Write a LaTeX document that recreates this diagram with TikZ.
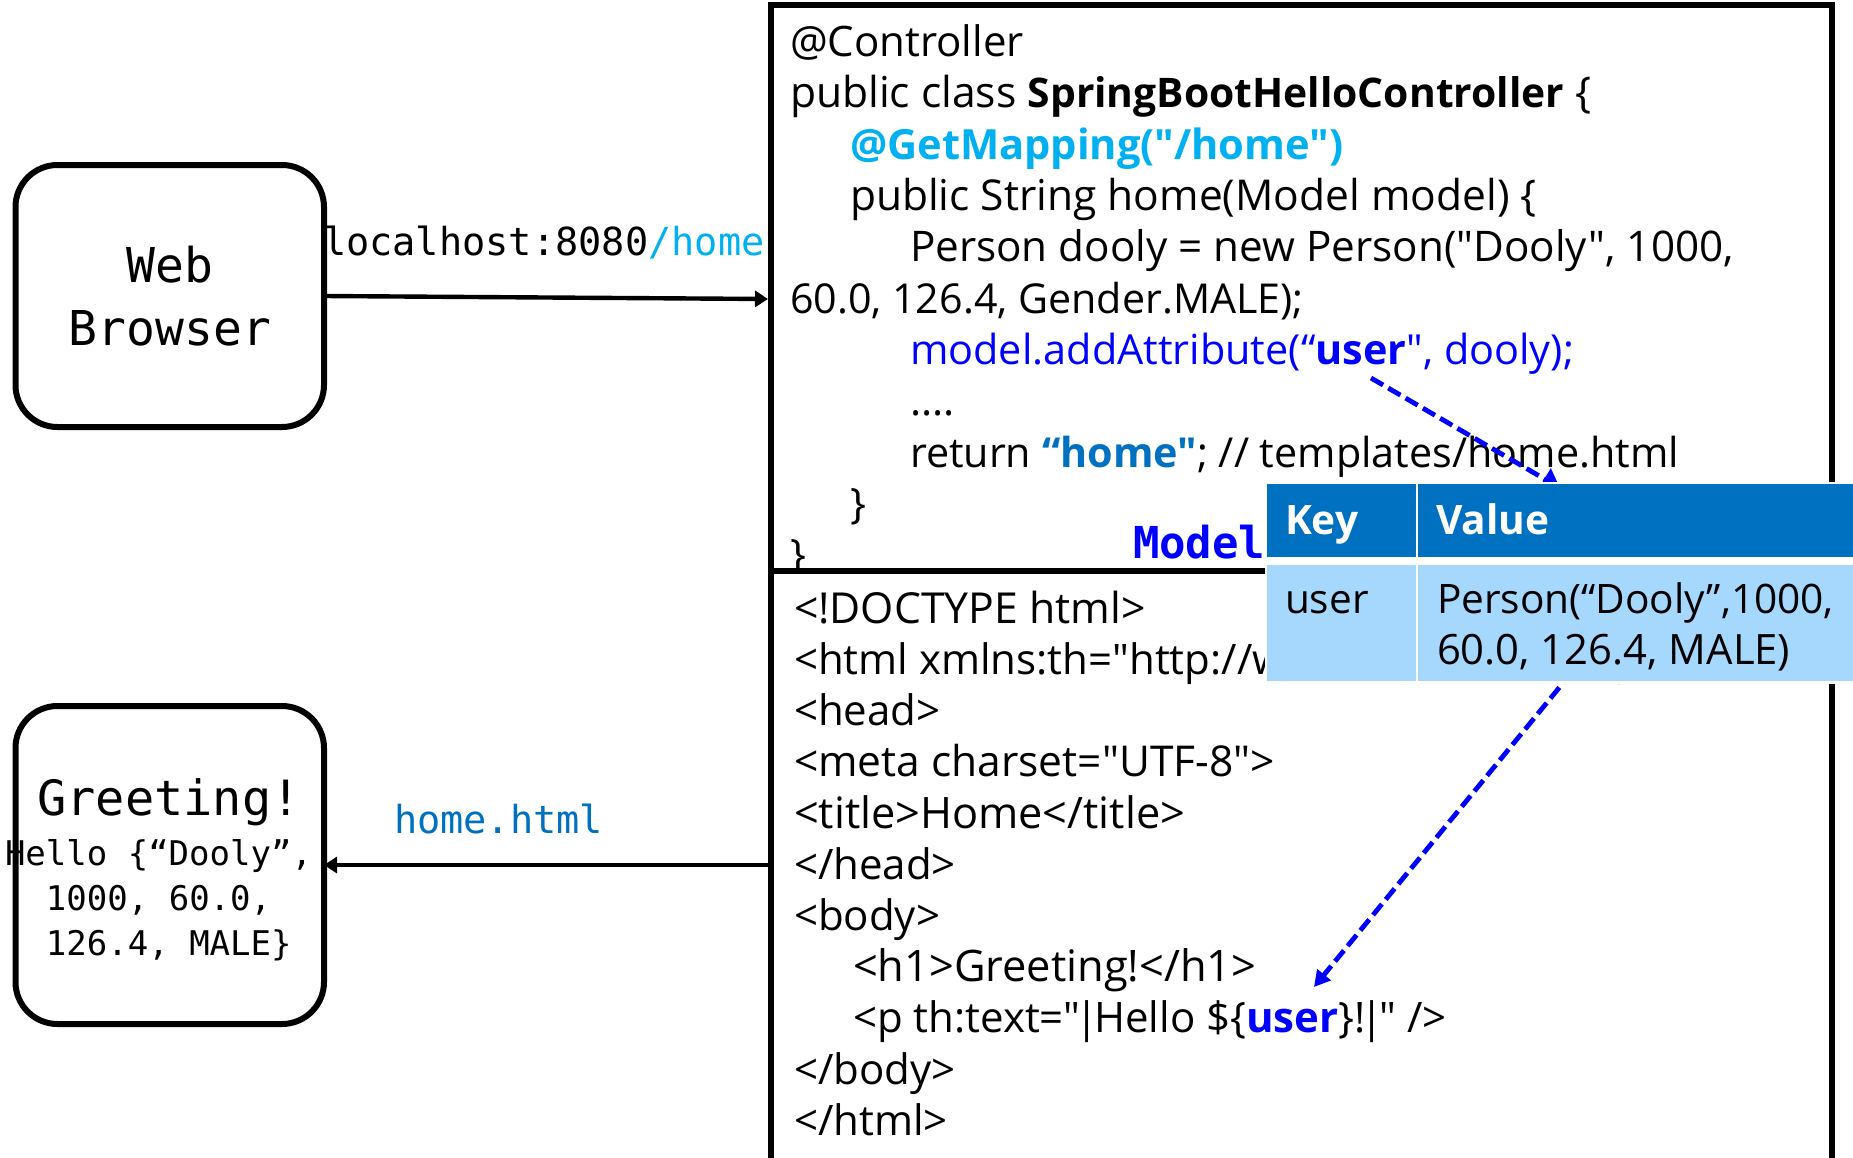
\documentclass[tikz,border=0pt]{standalone}
\usepackage{fontspec}
\setmainfont{Open Sans}[Ligatures=TeXOff]
\newfontfamily\monof{DejaVu Sans Mono}[Ligatures=TeXOff]
\usetikzlibrary{arrows.meta}
\definecolor{cyanb}{HTML}{00B0F0}
\definecolor{blueb}{HTML}{0070C0}
\definecolor{pureb}{HTML}{0000FF}
\definecolor{tablel}{HTML}{A6D8FE}
\newcommand\fsz[1]{\fontsize{#1}{24}\selectfont}
\newcommand\barch{\kern-2.4pt|\kern-2.4pt}
\tikzset{
  code/.style={anchor=base west,inner sep=0pt,outer sep=0pt,font=\fsz{21}},
  cell/.style={anchor=base west,inner sep=0pt,outer sep=0pt,font=\fsz{20.3}},
  mono/.style={anchor=base west,inner sep=0pt,outer sep=0pt},
  clientbox/.style={draw,line width=3pt,rounded corners=21pt,inner sep=0pt,outer sep=0pt,fill=white},
  frame/.style={draw,line width=3pt,inner sep=0pt,outer sep=0pt,fill=white},
  flow/.style={line width=2.2pt,-{Triangle[length=6.5pt,width=8pt]}},
  modelflow/.style={line width=2.4pt,pureb,dash pattern=on 7pt off 3pt,-{Triangle[length=8pt,width=8.5pt]}},
  modelflowin/.style={line width=2.4pt,pureb,dash pattern=on 7pt off 3pt,-{Triangle[length=9pt,width=12pt]}},
  tcell/.style={inner sep=0pt,outer sep=0pt,anchor=north west},
}
\begin{document}
\begin{tikzpicture}[x=0.5pt,y=-0.5pt]
\useasboundingbox (0,0) rectangle (1853,1157);
% upper frame
\node[frame,anchor=north west,minimum width=530.5pt,minimum height=283pt] (ctrl) at (771,5) {};
\node[code] (c1) at (790,56) {@Controller};
\node[code] (c2) at (790,107) {\fsz{21.3}public class \textbf{\fsz{20.4}SpringBootHelloController} \{};
\node[code,text=cyanb] (c3) at (850,159) {\textbf{\fsz{20.8}@GetMapping("/home")}};
\node[code] (c4) at (850,210) {\fsz{21.25}public String home(Model model) \{};
\node[code] (c5) at (910,261) {\fsz{21.1}Person dooly = new Person("Dooly", 1000,};
\node[code] (c6) at (790,313) {\fsz{20.6}60.0, 126.4, Gender.MALE);};
\node[code,text=pureb] (c7) at (910,364) {\fsz{20.7}model.addAttribute(“\textbf{user}", dooly);};
\node[code] (c8) at (910,415) {....};
\node[code] (c9) at (910,467) {\fsz{20.65}return \textcolor{blueb}{\textbf{“home"}}; // templates/home.html};
\node[code] (c10) at (850,518) {\}};
\node[code] (c11) at (790,569) {\}};
% lower frame
\node[frame,anchor=north west,minimum width=530.5pt,minimum height=300pt] (tmpl) at (771,571) {};
\node[code] (t1) at (794,623) {\fsz{21.35}<!DOCTYPE html>};
\node[code] (t2) at (794,674) {<html xmlns:th="http://www.thymeleaf.org">};
\node[code] (t3) at (794,725) {<head>};
\node[code] (t4) at (794,776) {\fsz{21.25}<meta charset="UTF-8">};
\node[code] (t5) at (794,828) {\fsz{21.65}<title>Home</title>};
\node[code] (t6) at (794,879) {</head>};
\node[code] (t7) at (794,930) {<body>};
\node[code] (t8) at (853,981) {\fsz{21.7}<h1>Greeting!</h1>};
\node[code] (t9) at (853,1032) {<p th:text="\barch Hello \$\{\textcolor{pureb}{\textbf{user}}\}!\barch" />};
\node[code] (t10) at (794,1084) {</body>};
\node[code] (t11) at (794,1135) {</html>};
\node[mono,font=\monof\bfseries\fontsize{22}{25}\selectfont,text=pureb] (modeltitle) at (1133,558) {Model};
% model arrows (under the table)
\coordinate (m1) at (1371,378);
\coordinate (m2) at (1560,488);
\coordinate (m3) at (1572,672);
\coordinate (m4) at (1314,987);
\draw[modelflowin] (m1) -- (m2);
\draw[modelflow] (m3) -- (m4);
% table
\fill[white] (1265,482) rectangle (1853,684);
\node[tcell,fill=blueb,minimum width=74.5pt,minimum height=36.5pt] (hkey) at (1267,484) {};
\node[tcell,fill=blueb,minimum width=217.5pt,minimum height=36.5pt] (hval) at (1418,484) {};
\node[tcell,fill=tablel,minimum width=74.5pt,minimum height=58pt] (bkey) at (1267,565) {};
\node[tcell,fill=tablel,minimum width=217.5pt,minimum height=58pt] (bval) at (1418,565) {};
\node[cell,text=white] (keyt) at (1285,534) {\textbf{Key}};
\node[cell,text=white] (valt) at (1436,534) {\textbf{Value}};
\node[cell] (usert) at (1285,613) {user};
\node[cell] (pers1) at (1437,613) {Person(“Dooly”,1000,};
\node[cell] (pers2) at (1437,664) {\fsz{20.9}60.0, 126.4, MALE)};
% clients
\node[clientbox,anchor=north west,minimum width=154.25pt,minimum height=131pt] (web) at (15.5,165) {};
\node[clientbox,anchor=north west,minimum width=154.25pt,minimum height=159pt] (greet) at (15.5,706) {};
\node[mono,anchor=base,font=\monof\fontsize{24}{28}\selectfont] (w1) at (170,282) {Web};
\node[mono,anchor=base,font=\monof\fontsize{24}{28}\selectfont] (w2) at (170,345) {Browser};
\node[mono,font=\monof\fontsize{19.3}{23}\selectfont] (url) at (323,255) {localhost:8080\textcolor{cyanb}{/home}};
\node[mono,anchor=base,font=\monof\fontsize{24.3}{28}\selectfont] (g1) at (169,815) {Greeting!};
\node[mono,font=\monof\fontsize{17}{20}\selectfont] (g2) at (5,865) {Hello \{“Dooly”,};
\node[mono,font=\monof\fontsize{17}{20}\selectfont] (g3) at (46,910) {1000, 60.0,};
\node[mono,font=\monof\fontsize{17}{20}\selectfont] (g4) at (46,955) {126.4, MALE\}};
\node[mono,text=blueb,font=\monof\fontsize{19.3}{23}\selectfont] (hh) at (394,833) {home.html};
% flows
\coordinate (a1) at (768,299);
\coordinate (a2) at (768,865);
\draw[flow] (web.east) -- (a1);
\draw[flow] (a2) -- (greet.east);
\end{tikzpicture}
\end{document}
